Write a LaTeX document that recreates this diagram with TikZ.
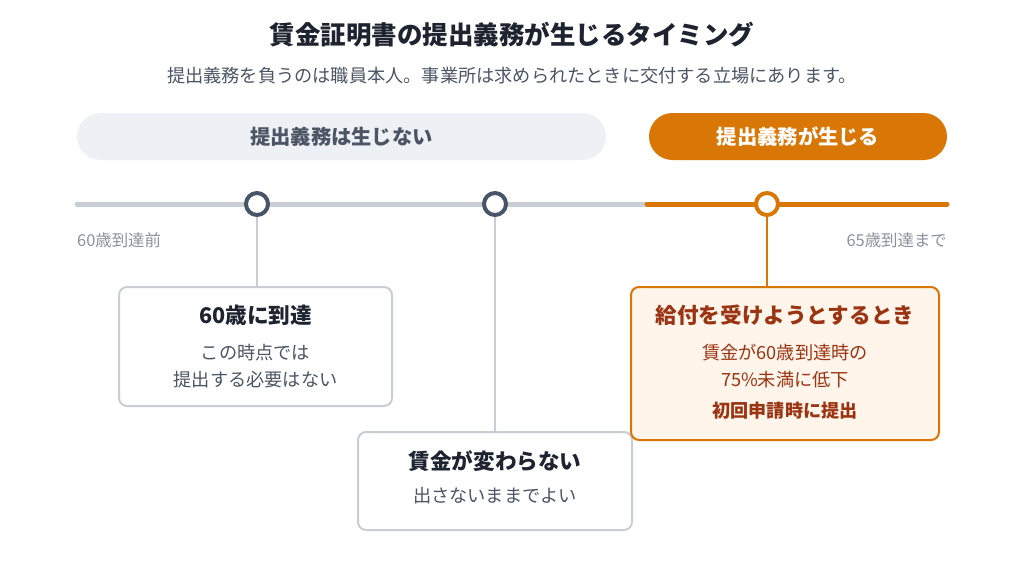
\documentclass[tikz,border=0pt]{standalone}
\usepackage{fontspec}
\setmainfont{Noto Sans CJK JP}
\usetikzlibrary{positioning}

\definecolor{ink}{HTML}{1E2330}
\definecolor{slate}{HTML}{4B5563}
\definecolor{ringgray}{HTML}{4A5468}
\definecolor{linegray}{HTML}{C9CDD6}
\definecolor{pillbg}{HTML}{EDF0F5}
\definecolor{amber}{HTML}{D97706}
\definecolor{amberbg}{HTML}{FFF5EA}
\definecolor{rust}{HTML}{9A3412}
\definecolor{labelgray}{HTML}{8B919C}

\begin{document}
\begin{tikzpicture}[x=1pt, y=-1pt,
  pill/.style={rounded corners=23.5pt, minimum height=47pt, inner sep=0pt,
               font=\fontsize{20.3}{24}\selectfont\bfseries},
  ring/.style={circle, line width=4pt, fill=white, minimum size=22pt, inner sep=0pt},
  card/.style={draw=linegray, line width=2pt, fill=white, rounded corners=8pt, inner sep=0pt},
  head/.style={font=\fontsize{21.6}{26}\selectfont\bfseries, text=ink},
  body/.style={font=\fontsize{18.2}{27}\selectfont, text=slate, align=center},
  tick/.style={font=\fontsize{16.4}{19}\selectfont, text=labelgray, inner sep=0pt},
  stem/.style={line width=2pt, draw=linegray}
]
  \useasboundingbox (0,0) rectangle (1024,563);

  % title
  \node[font=\fontsize{25.5}{30}\selectfont\bfseries, text=ink] (title) at (512,35)
    {賃金証明書の提出義務が生じるタイミング};
  \node[font=\fontsize{18.2}{22}\selectfont, text=slate] (sub) at (512,76)
    {提出義務を負うのは職員本人。事業所は求められたときに交付する立場にあります。};

  % phases
  \node[pill, fill=pillbg, text=slate, minimum width=529pt] (nodue) at (341.5,136.5) {提出義務は生じない};
  \node[pill, fill=amber, text=white, minimum width=298pt] (due) at (798,136.5) {提出義務が生じる};

  % timeline
  \coordinate (tstart) at (77,204);
  \coordinate (tsplit) at (647,204);
  \coordinate (tend) at (947,204);
  \draw[line width=5pt, draw=linegray, line cap=round] (tstart) -- (tsplit);
  \draw[line width=5pt, draw=amber, line cap=round] (tsplit) -- (tend);

  \node[tick, anchor=west] (before) at (77,240) {60歳到達前};
  \node[tick, anchor=east] (until) at (947,240) {65歳到達まで};

  % cards
  \node[card, minimum width=273pt, minimum height=119pt] (reach) at (255.5,346.5) {};
  \node[head] (reachhead) at (255.5,315) {60歳に到達};
  \node[body] (reachbody) at (255.5,366) {この時点では\\提出する必要はない};

  \node[card, minimum width=274pt, minimum height=98pt] (same) at (495,481) {};
  \node[head] (samehead) at (495,461) {賃金が変わらない};
  \node[body] (samebody) at (495,496) {出さないままでよい};

  \node[card, draw=amber, fill=amberbg, minimum width=308pt, minimum height=153pt] (claim) at (785,363.5) {};
  \node[head, text=rust] (claimhead) at (785,315) {給付を受けようとするとき};
  \node[body, text=rust] (claimbody) at (785,366) {賃金が60歳到達時の\\75\%未満に低下};
  \node[body, text=rust, font=\fontsize{18.1}{22}\selectfont\bfseries] (claimnote) at (785,411) {初回申請時に提出};

  % markers and stems
  \node[ring, draw=ringgray] (m1) at (257,204) {};
  \node[ring, draw=ringgray] (m2) at (495,204) {};
  \node[ring, draw=amber] (m3) at (767,204) {};

  \draw[stem] (m1.south) -- (m1.south |- reach.north);
  \draw[stem] (m2.south) -- (m2.south |- same.north);
  \draw[stem, draw=amber] (m3.south) -- (m3.south |- claim.north);
\end{tikzpicture}
\end{document}
